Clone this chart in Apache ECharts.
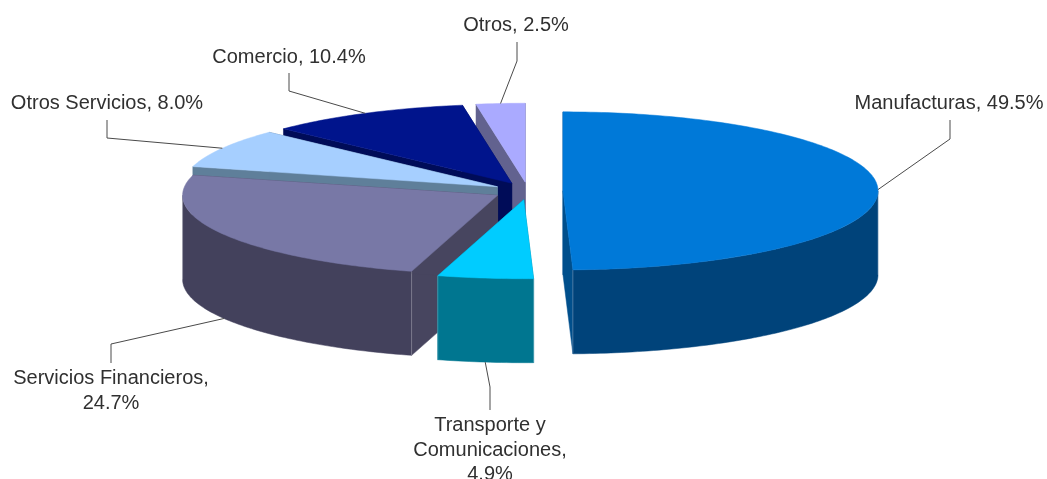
<!DOCTYPE html>
<html><head><meta charset="utf-8">
<style>html,body{margin:0;padding:0;background:#fff}#c{width:1047px;height:479px}</style>
<script src="https://cdn.jsdelivr.net/npm/echarts@6/dist/echarts.min.js"></script>
</head><body><div id="c"></div>
<script>
// ---- data, clockwise from 12 o'clock ----
const categories = ['Manufacturas','Transporte y Comunicaciones','Servicios Financieros','Otros Servicios','Comercio','Otros'];
const values = [49.5, 4.9, 24.7, 8.0, 10.4, 2.5];

// ---- style ----
const topColors  = ['#0079D8','#00CCFF','#7878A6','#A6CFFF','#00148C','#AAAAFF'];
const wallColors = ['#00437A','#007690','#43415C','#5F7F9A','#000C58','#62628F'];
const faceColors = ['#004F8C','#007690','#47455F','#5F7F9A','#000C58','#62628F'];

// ---- projection ----
const CX = 528, CY = 191, RX = 315, RY = 79, DEPTH = 84, EXPLODE = 35;

// ---- label layout: text block centre, elbow, line start ----
const labelLayout = [
  {x:949, y:103, brk:null, elbow:[950,139], end:[950,120], onWall:false},
  {x:490, y:450, brk:'Transporte y\nComunicaciones,\n', elbow:[490,387], end:[490,410], onWall:true},
  {x:111, y:391, brk:'Servicios Financieros,\n', elbow:[111,344], end:[111,363], onWall:true},
  {x:107, y:103, brk:null, elbow:[107,138], end:[107,120], onWall:false},
  {x:289, y:57,  brk:null, elbow:[289,91],  end:[289,73],  onWall:false},
  {x:516, y:25,  brk:null, elbow:[517,61],  end:[517,42],  onWall:false}
];

const total = values.reduce((a,b)=>a+b,0);
const rad = d => d*Math.PI/180;
let run = 0;
const slices = values.map(v => {
  const a0 = run/total*360; run += v; const a1 = run/total*360;
  const mid = (a0+a1)/2;
  const ax = CX + EXPLODE*Math.sin(rad(mid));
  const ay = CY - EXPLODE*Math.cos(rad(mid))*RY/RX;
  return {a0,a1,mid,ax,ay};
});
const order = slices.map((s,i)=>[Math.cos(rad(s.mid)),i]).sort((p,q)=>q[0]-p[0]).map(p=>p[1]);
const rim = (s,a,dz=0) => [s.ax+RX*Math.sin(rad(a)), s.ay-RY*Math.cos(rad(a))+dz];
const arc = (s,from,to,dz=0) => {
  const pts=[]; const n=Math.max(2,Math.ceil(Math.abs(to-from)));
  for(let k=0;k<=n;k++) pts.push(rim(s,from+(to-from)*k/n,dz));
  return pts;
};

function renderItem(params, api){
  const i = params.dataIndex, s = slices[i], base = order.indexOf(i)*10+1;
  const kids = [];
  const poly = (points,fill,z2) => kids.push({type:'polygon',z2,shape:{points},
    style:{fill,stroke:fill,lineWidth:0.5}});
  const apex=[s.ax,s.ay], apexB=[s.ax,s.ay+DEPTH];
  // cut faces
  [s.a0,s.a1].forEach(a=>{
    poly([apex,rim(s,a),rim(s,a,DEPTH),apexB],faceColors[i],base);
  });
  // outer wall: only the part of the rim facing the viewer
  const w0=Math.max(s.a0,90), w1=Math.min(s.a1,270);
  if(w1>w0){
    poly(arc(s,w0,w1).concat(arc(s,w1,w0,DEPTH)),wallColors[i],base+1);
    kids.push({type:'polyline',z2:base+2,shape:{points:[rim(s,w0),rim(s,w0,DEPTH)]},style:{stroke:'rgba(255,255,255,.25)',lineWidth:1}});
    kids.push({type:'polyline',z2:base+2,shape:{points:[rim(s,w1),rim(s,w1,DEPTH)]},style:{stroke:'rgba(255,255,255,.25)',lineWidth:1}});
  }
  // top
  poly([apex].concat(arc(s,s.a0,s.a1)),topColors[i],base+3);

  // leader and label
  const L = labelLayout[i];
  const anchor = rim(s,s.mid,L.onWall?DEPTH:0);
  kids.push({type:'polyline',z2:100,shape:{points:[anchor,L.elbow,L.end]},style:{stroke:'#4a4a4a',lineWidth:1,fill:null}});
  const pct = api.value(0).toFixed(1)+'%';
  const txt = L.brk ? L.brk+pct : categories[i]+', '+pct;
  kids.push({type:'text',z2:101,style:{text:txt,x:L.x,y:L.y,fill:'#303030',align:'center',verticalAlign:'middle',
    font:'20px "Liberation Sans", Arial, sans-serif',lineHeight:24.5}});
  return {type:'group',children:kids};
}

const chart = echarts.init(document.getElementById('c'),null,{renderer:'canvas'});
chart.setOption({
  animation:false,
  backgroundColor:'#fff',
  series:[{type:'custom',coordinateSystem:'none',silent:true,clip:false,renderItem,
    data:values.map((v,i)=>({name:categories[i],value:[v]}))}]
});
</script></body></html>
